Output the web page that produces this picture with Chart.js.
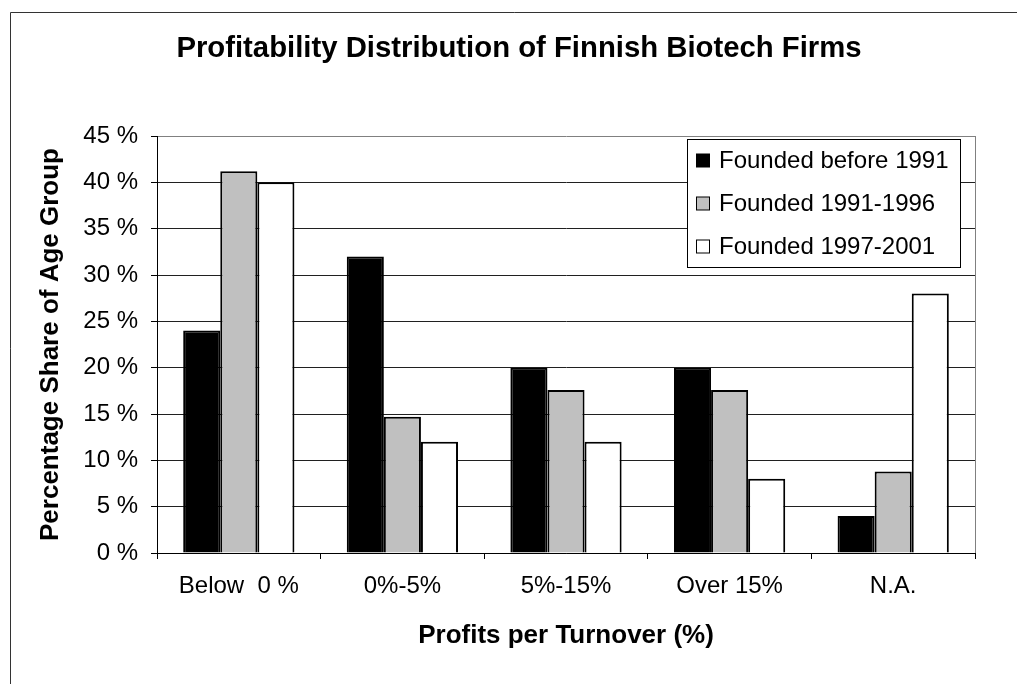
<!DOCTYPE html>
<html>
<head>
<meta charset="utf-8">
<script src="https://cdn.jsdelivr.net/npm/chart.js@4/dist/chart.umd.min.js"></script>
<style>
  html, body { margin: 0; padding: 0; background: #fff; }
  #wrap { width: 1017px; height: 684px; position: relative; }
</style>
</head>
<body>
<div id="wrap"><canvas id="c" width="1017" height="684"></canvas></div>
<script>
const categories = ['Below  0 %', '0%-5%', '5%-15%', 'Over 15%', 'N.A.'];
const seriesNames = ['Founded before 1991', 'Founded 1991-1996', 'Founded 1997-2001'];
const before1991 = [24, 32, 20, 20, 4];
const founded1991to1996 = [41.2, 14.7, 17.6, 17.6, 8.8];
const founded1997to2001 = [40, 12, 12, 8, 28];
const yTicks = [0, 5, 10, 15, 20, 25, 30, 35, 40, 45];
const chartTitle = 'Profitability Distribution of Finnish Biotech Firms';
const xTitle = 'Profits per Turnover (%)';
const yTitle = 'Percentage Share of Age Group';

const FONT = '"Liberation Sans", Arial, Helvetica, sans-serif';

const framePlugin = {
  id: 'frame',
  beforeDraw(chart) {
    const ctx = chart.ctx;
    ctx.save();
    ctx.fillStyle = '#ffffff';
    ctx.fillRect(0, 0, chart.width, chart.height);
    ctx.strokeStyle = '#333333';
    ctx.lineWidth = 1;
    ctx.beginPath();
    ctx.moveTo(10.5, chart.height + 5);
    ctx.lineTo(10.5, 12.5);
    ctx.lineTo(chart.width + 5, 12.5);
    ctx.stroke();
    // title
    ctx.fillStyle = '#000';
    ctx.font = 'bold 29.3px ' + FONT;
    ctx.textAlign = 'center';
    ctx.textBaseline = 'middle';
    ctx.fillText(chartTitle, 519, 49);
    ctx.restore();
  },
  afterDatasetsDraw(chart) {
    const ctx = chart.ctx;
    const a = chart.chartArea;
    ctx.save();
    // right border of plot area
    ctx.strokeStyle = '#808080';
    ctx.lineWidth = 1;
    ctx.beginPath();
    ctx.moveTo(Math.round(a.right) + 0.5, a.top);
    ctx.lineTo(Math.round(a.right) + 0.5, a.bottom);
    ctx.stroke();
    // legend
    const bx = 687.5, by = 139.5, bw = 273, bh = 128;
    ctx.fillStyle = '#fff';
    ctx.fillRect(bx, by, bw, bh);
    ctx.strokeStyle = '#000';
    ctx.strokeRect(bx, by, bw, bh);
    ctx.font = '24px ' + FONT;
    ctx.textAlign = 'left';
    ctx.textBaseline = 'middle';
    chart.data.datasets.forEach((ds, i) => {
      const cy = 160.5 + i * 43;
      ctx.fillStyle = ds.backgroundColor;
      ctx.fillRect(696.5, cy - 6.5, 13, 13);
      ctx.strokeStyle = '#000';
      ctx.lineWidth = 1;
      ctx.strokeRect(696.5, cy - 6.5, 13, 13);
      ctx.fillStyle = '#000';
      ctx.fillText(ds.label, 719, cy + 1);
    });
    ctx.restore();
  }
};

const seriesValues = [before1991, founded1991to1996, founded1997to2001];
const seriesColors = ['#000000', '#c0c0c0', '#ffffff'];

new Chart(document.getElementById('c'), {
  type: 'bar',
  data: {
    labels: categories,
    datasets: seriesNames.map((name, i) => ({
      label: name,
      data: seriesValues[i],
      backgroundColor: seriesColors[i],
      borderColor: '#000000',
      borderWidth: 2,
      categoryPercentage: 0.68,
      barPercentage: 1.0
    }))
  },
  options: {
    responsive: false,
    animation: false,
    devicePixelRatio: 1,
    layout: { padding: { top: 136, right: 42, left: 0, bottom: 0 } },
    plugins: {
      legend: { display: false },
      title: { display: false },
      tooltip: { enabled: false }
    },
    scales: {
      x: {
        afterFit(s) { s.height = 131; },
        grid: {
          offset: true,
          drawOnChartArea: false,
          drawTicks: true,
          tickLength: 6,
          tickColor: '#000'
        },
        border: { color: '#000', width: 1 },
        ticks: {
          color: '#000',
          padding: 13,
          font: { family: FONT, size: 24 },
          maxRotation: 0,
          autoSkip: false
        },
        title: {
          display: true,
          text: xTitle,
          color: '#000',
          font: { family: FONT, size: 26, weight: 'bold' },
          padding: { top: 0, bottom: 33 }
        }
      },
      y: {
        min: 0,
        max: 45,
        afterFit(s) { s.width = 157; },
        afterBuildTicks(s) { s.ticks = yTicks.map(v => ({ value: v })); },
        grid: {
          color: (c) => (c.tick && c.tick.value === 45) ? '#808080' : '#202020',
          lineWidth: 1,
          drawTicks: true,
          tickLength: 6,
          tickColor: '#000'
        },
        border: { color: '#000', width: 1 },
        ticks: {
          color: '#000',
          padding: 13,
          font: { family: FONT, size: 24 },
          callback: (v) => v + ' %'
        },
        title: {
          display: true,
          text: yTitle,
          color: '#000',
          font: { family: FONT, size: 26, weight: 'bold' },
          padding: { top: 35, bottom: 0 }
        }
      }
    }
  },
  plugins: [framePlugin]
});
</script>
</body>
</html>
